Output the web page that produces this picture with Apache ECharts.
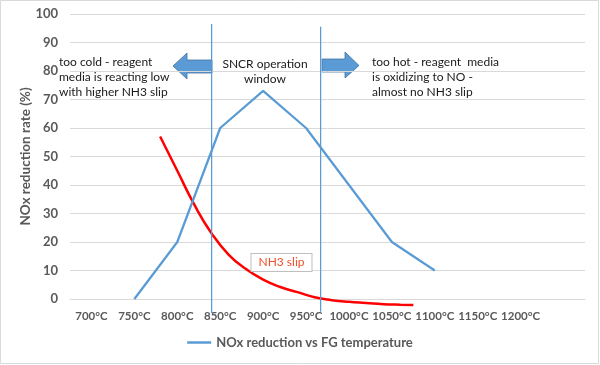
<!DOCTYPE html>
<html>
<head>
<meta charset="utf-8">
<script src="https://cdn.jsdelivr.net/npm/echarts@6/dist/echarts.min.js"></script>
<style>
html,body{margin:0;padding:0;background:#fff;}
#c{width:600px;height:365px;}
</style>
</head>
<body>
<div id="c"></div>
<script>
// ---- data ----
const categories = ['700°C','750°C','800°C','850°C','900°C','950°C','1000°C','1050°C','1100°C','1150°C','1200°C',''];
const noxReduction = [null, 0, 20, 60, 73, 60, 40, 20, 10, null, null, null];
const slipTemps  = [780, 800, 820, 840, 860, 880, 900, 920, 940, 960, 980, 1000, 1020, 1040, 1060, 1075];
const slipValues = [57, 45, 33, 23, 15.5, 10.5, 6.8, 4.2, 2.4, 0.6, -0.4, -1.0, -1.4, -1.8, -2.0, -2.1];
const windowBounds = [840, 967];
const windowTops = [96.5, 95.5];
const windowBottoms = [-5, -4.5];
const yTicks = [0, 100, 10];

const FONT = 'Lato';
const chart = echarts.init(document.getElementById('c'), null, {renderer: 'canvas'});

const slipData = slipTemps.map((t, i) => [t, slipValues[i]]);

const windowSeries = windowBounds.map((t, i) => ({
  name: 'window' + i,
  type: 'line',
  xAxisIndex: 1,
  yAxisIndex: 0,
  data: [[t, windowTops[i]], [t, windowBottoms[i]]],
  symbol: 'none',
  clip: false,
  silent: true,
  lineStyle: {color: '#5b9bd5', width: 1.25},
  z: 4
}));

const option = {
  animation: false,
  textStyle: {fontFamily: FONT},
  grid: {left: 70, right: 15, top: 14, bottom: 66, containLabel: false},
  xAxis: [
    {
      type: 'category',
      data: categories,
      boundaryGap: true,
      axisLine: {lineStyle: {color: '#d9d9d9'}},
      axisTick: {show: false},
      axisLabel: {color: '#595959', fontWeight: 'bold', fontSize: 11.5, margin: 11, fontFamily: FONT, interval: 0}
    },
    {
      type: 'value', min: 675, max: 1275, show: false
    }
  ],
  yAxis: {
    type: 'value',
    min: yTicks[0], max: yTicks[1], interval: yTicks[2],
    name: 'NOx reduction rate (%)',
    nameLocation: 'middle',
    nameGap: 37,
    nameMoveOverlap: false,
    nameTextStyle: {color: '#595959', fontWeight: 'bold', fontSize: 13.5, fontFamily: FONT},
    axisLine: {show: false},
    axisTick: {show: false},
    axisLabel: {color: '#595959', fontWeight: 'bold', fontSize: 13, margin: 12, fontFamily: FONT},
    splitLine: {lineStyle: {color: '#d9d9d9', width: 1}}
  },
  legend: {
    data: [{name: 'NOx reduction vs FG temperature', icon: 'rect'}],
    bottom: 11,
    left: 'center',
    itemWidth: 24,
    itemHeight: 2.5,
    itemGap: 2,
    textStyle: {color: '#595959', fontWeight: 'bold', fontSize: 13, fontFamily: FONT}
  },
  series: [
    {
      name: 'NOx reduction vs FG temperature',
      type: 'line',
      data: noxReduction,
      symbol: 'none',
      lineStyle: {color: '#5b9bd5', width: 2.25},
      itemStyle: {color: '#5b9bd5'},
      z: 3
    },
    {
      name: 'NH3 slip',
      type: 'line',
      xAxisIndex: 1,
      yAxisIndex: 0,
      data: slipData,
      smooth: 0.5,
      symbol: 'none',
      clip: false,
      lineStyle: {color: '#ff0000', width: 2.5},
      z: 2
    }
  ].concat(windowSeries),
  graphic: [
    {type: 'rect', shape: {x: 0.5, y: 0.5, width: 598, height: 363}, style: {fill: 'none', stroke: '#d9d9d9', lineWidth: 1}, silent: true},
    // left arrow
    {type: 'polygon', shape: {points: [[173,66],[187,53],[187,60],[212,60],[212,73],[187,73],[187,79]]},
     style: {fill: '#5b9bd5', stroke: '#41719c', lineWidth: 0.8}},
    // right arrow
    {type: 'polygon', shape: {points: [[322,59],[345,59],[345,52],[359,65.5],[345,78],[345,72],[322,72]]},
     style: {fill: '#5b9bd5', stroke: '#41719c', lineWidth: 0.8}},
    {type: 'text', left: 59, top: 55, style: {text: 'too cold - reagent\nmedia is reacting low\nwith higher NH3 slip', fill: '#1a1a1a', font: '12px ' + FONT, lineHeight: 15}},
    {type: 'text', left: 372, top: 55, style: {text: 'too hot - reagent  media\nis oxidizing to NO -\nalmost no NH3 slip', fill: '#1a1a1a', font: '12px ' + FONT, lineHeight: 15}},
    {type: 'text', x: 265, y: 57, style: {text: 'SNCR operation\nwindow', fill: '#1a1a1a', font: '12px ' + FONT, lineHeight: 15, align: 'center'}},
    {type: 'text', x: 281.5, y: 262.5, z: 10, style: {text: 'NH3 slip', fill: '#f0502a', font: '12px ' + FONT, align: 'center', verticalAlign: 'middle',
      backgroundColor: '#ffffff', borderColor: '#bfbfbf', borderWidth: 1, padding: [3, 7, 2, 7]}}
  ]
};
chart.setOption(option);
</script>
</body>
</html>
